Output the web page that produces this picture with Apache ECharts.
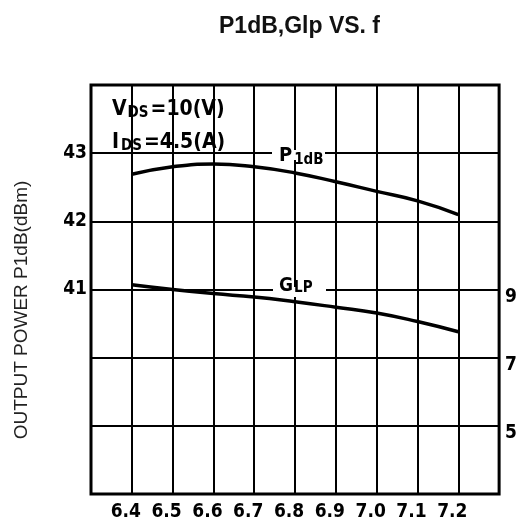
<!DOCTYPE html>
<html>
<head>
<meta charset="utf-8">
<script src="https://cdn.jsdelivr.net/npm/echarts@6/dist/echarts.min.js"></script>
<style>html,body{margin:0;padding:0;background:#fff}#c{width:520px;height:522px}</style>
</head>
<body>
<div id="c"></div>
<script>
const freq = [6.4, 6.5, 6.6, 6.7, 6.8, 6.9, 7.0, 7.1, 7.2];
const p1dB = [42.69, 42.80, 42.84, 42.80, 42.71, 42.58, 42.44, 42.30, 42.10];
const glp = [9.14, 9.00, 8.88, 8.78, 8.64, 8.48, 8.31, 8.06, 7.76];
const xTickLabels = ['6.4', '6.5', '6.6', '6.7', '6.8', '6.9', '7.0', '7.1', '7.2'];
const leftTickLabels = [41, 42, 43];
const rightTickLabels = [5, 7, 9];

const tickFont = "'DejaVu Sans Condensed','Liberation Sans Narrow',Arial,sans-serif";
const chart = echarts.init(document.getElementById('c'), null, {renderer: 'canvas'});
chart.setOption({
  animation: false,
  backgroundColor: '#fff',
  title: {
    text: 'P1dB,Glp VS. f',
    left: 214, top: 10,
    textStyle: {fontFamily: "'Liberation Sans',Arial,sans-serif", fontWeight: 'bold', fontSize: 23, color: '#111'}
  },
  grid: {left: 91, right: 19, top: 85, bottom: 25, show: true, borderColor: '#000', borderWidth: 3, backgroundColor: '#fff'},
  xAxis: {
    type: 'value', min: 6.3, max: 7.3, interval: 0.1,
    axisLine: {show: false}, axisTick: {show: false},
    splitLine: {show: true, lineStyle: {color: '#000', width: 2}},
    axisLabel: {
      margin: 9, color: '#000', fontFamily: tickFont, fontWeight: 'bold', fontSize: 19,
      padding: [0, 12, 0, 0],
      formatter: function (v) {
        const s = Number(v).toFixed(1);
        return xTickLabels.indexOf(s) >= 0 ? s : '';
      }
    }
  },
  yAxis: [{
    type: 'value', min: 38, max: 44, interval: 1,
    axisLine: {show: false}, axisTick: {show: false},
    splitLine: {show: true, lineStyle: {color: '#000', width: 2}},
    axisLabel: {
      margin: 4, color: '#000', fontFamily: tickFont, fontWeight: 'bold', fontSize: 19,
      formatter: function (v) { return leftTickLabels.indexOf(Math.round(v)) >= 0 ? String(Math.round(v)) : ''; }
    }
  }, {
    type: 'value', min: 3, max: 15, interval: 2, position: 'right',
    axisLine: {show: false}, axisTick: {show: false}, splitLine: {show: false},
    axisLabel: {
      margin: 6, color: '#000', fontFamily: tickFont, fontWeight: 'bold', fontSize: 19,
      verticalAlign: 'top', padding: [-2, 0, 0, 0],
      formatter: function (v) { return rightTickLabels.indexOf(Math.round(v)) >= 0 ? String(Math.round(v)) : ''; }
    }
  }],
  series: [{
    name: 'P1dB', type: 'line', yAxisIndex: 0, smooth: true, showSymbol: false,
    lineStyle: {color: '#000', width: 3.5},
    data: freq.map((f, i) => [f, p1dB[i]])
  }, {
    name: 'Glp', type: 'line', yAxisIndex: 1, smooth: true, showSymbol: false,
    lineStyle: {color: '#000', width: 3.5},
    data: freq.map((f, i) => [f, glp[i]])
  }],
  graphic: [
    {type: 'text', x: 22, y: 310, rotation: Math.PI / 2,
     style: {text: 'OUTPUT POWER P1dB(dBm)', fill: '#222', font: "19px 'Liberation Sans',Arial,sans-serif", align: 'center', verticalAlign: 'middle'}},
    {type: 'text', x: 112, y: 110, z: 100,
     style: {text: '{a|V}{b|DS}{a|=10(V)}', align: 'left', verticalAlign: 'middle',
       rich: {a: {font: "bold 21px " + tickFont, fill: '#000'}, b: {font: "bold 15px " + tickFont, fill: '#000', padding: [6, 2, 0, 1]}}}},
    {type: 'text', x: 112, y: 143, z: 100,
     style: {text: '{a|I}{b|DS}{a|=4.5(A)}', align: 'left', verticalAlign: 'middle',
       rich: {a: {font: "bold 21px " + tickFont, fill: '#000'}, b: {font: "bold 15px " + tickFont, fill: '#000', padding: [6, 2, 0, 2]}}}},
    {type: 'rect', shape: {x: 272, y: 150, width: 53, height: 10}, style: {fill: '#fff'}, z: 99},
    {type: 'text', x: 279, y: 156, z: 100,
     style: {text: '{a|P}{b|1dB}', align: 'left', verticalAlign: 'middle',
       rich: {a: {font: "bold 20px " + tickFont, fill: '#000'}, b: {font: "bold 15px " + tickFont, fill: '#000', padding: [8, 0, 0, 2]}}}},
    {type: 'rect', shape: {x: 273, y: 287, width: 53, height: 10}, style: {fill: '#fff'}, z: 99},
    {type: 'text', x: 279, y: 286, z: 100,
     style: {text: '{a|G}{b|LP}', align: 'left', verticalAlign: 'middle',
       rich: {a: {font: "bold 19px " + tickFont, fill: '#000'}, b: {font: "bold 15px " + tickFont, fill: '#000', padding: [4, 0, 0, 1]}}}}
  ]
});
</script>
</body>
</html>
